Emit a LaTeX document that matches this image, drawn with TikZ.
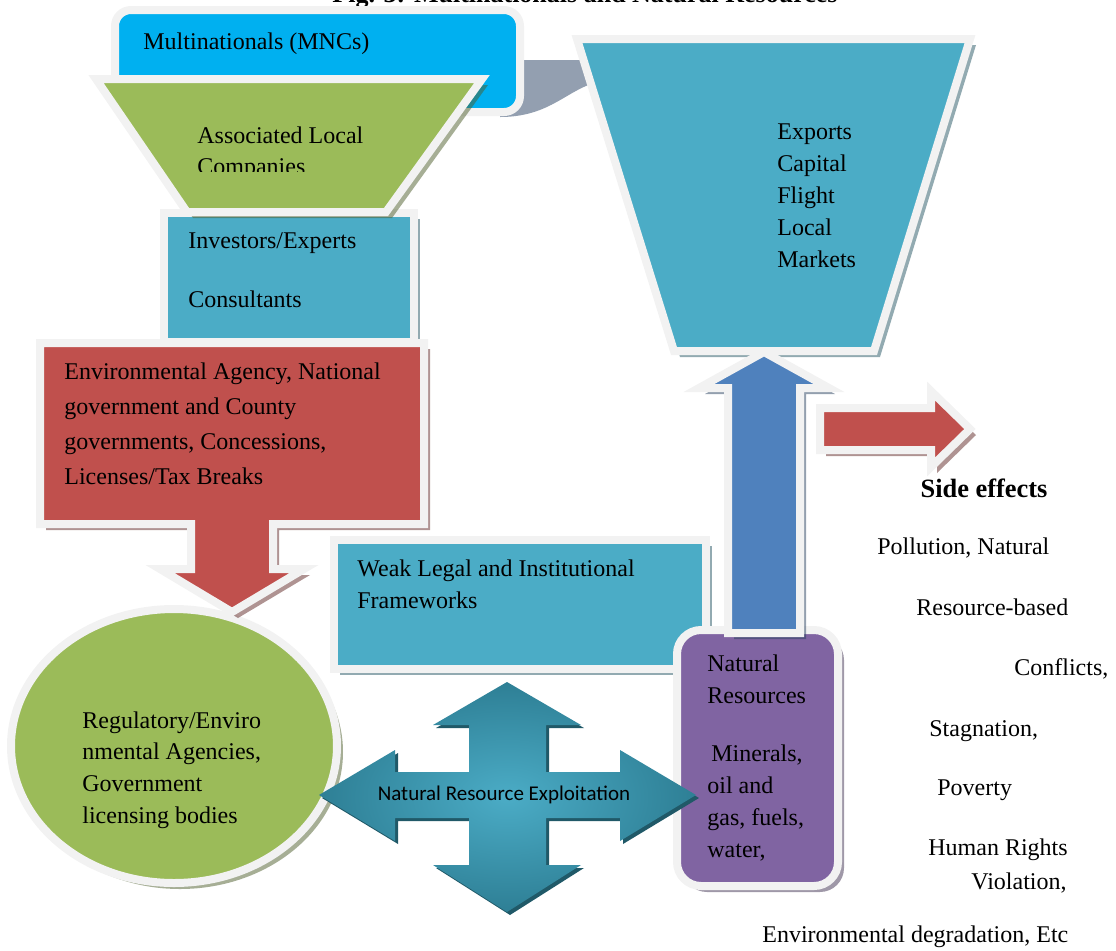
\documentclass[tikz,border=0pt]{standalone}
\usepackage{fontspec}
\setmainfont{Liberation Serif}
\newfontfamily\calibri{Carlito}
\usetikzlibrary{shadows}
\definecolor{mncblue}{HTML}{00B0F0}
\definecolor{leafgreen}{HTML}{9BBB59}
\definecolor{aqua}{HTML}{4BACC6}
\definecolor{brick}{HTML}{C0504D}
\definecolor{nrpurple}{HTML}{8064A2}
\definecolor{steel}{HTML}{4F81BD}
\definecolor{deepteal}{HTML}{2E7F95}
\definecolor{rimgray}{HTML}{F2F2F2}
\definecolor{bandgray}{HTML}{939FB0}

\begin{document}
\begin{tikzpicture}[x=0.5pt,y=-0.5pt,
  rimmed/.style={draw=rimgray,line width=4pt,line join=miter},
  shad/.style={drop shadow={shadow xshift=3pt,shadow yshift=-3pt,fill=#1!50!black,opacity=.5}},
  txt/.style={anchor=west,inner sep=0pt,align=left,font=\fontsize{12}{#1}\selectfont},
  txt/.default=16]
  \useasboundingbox (0,0) rectangle (1116,950);
  \clip (0,0) rectangle (1116,950);
  \node[anchor=base,font=\bfseries\fontsize{13}{15}\selectfont] (title) at (585,2) {Fig. 3: Multinationals and Natural Resources};
  % top row
  \fill[bandgray] (505,60) -- (586,60) -- (594,83) .. controls (565,92) and (548,117) .. (500,117) -- cycle;
  \draw[rimmed,fill=mncblue,rounded corners=8pt] (115,10) rectangle (520,112);
  \draw[rimmed,fill=aqua,shad=aqua] (164,213) rectangle (414,342);
  \draw[rimmed,fill=leafgreen,shad=leafgreen] (96,79) -- (482,79) -- (386,212) -- (187,212) -- cycle;
  \draw[rimmed,fill=aqua,shad=aqua] (577,39) -- (970,39) -- (874,351) -- (674,351) -- cycle;
  % left column
  \draw[rimmed,fill=leafgreen,shad=leafgreen] (174,746) ellipse [x radius=163,y radius=137];
  \draw[rimmed,fill=brick,shad=brick] (40,343) -- (424,343) -- (424,524) -- (273,524) -- (273,569) -- (304,569)
    -- (232,612) -- (160,569) -- (191,569) -- (191,524) -- (40,524) -- cycle;
  \draw[rimmed,fill=aqua,shad=aqua] (334,540) rectangle (706,669);
  % right column
  \draw[rimmed,fill=nrpurple,shad=nrpurple,rounded corners=12pt] (677,630) rectangle (838,886);
  \draw[rimmed,fill=brick,shad=brick] (820,408) -- (931,408) -- (931,391) -- (970,429) -- (931,467) -- (931,450) -- (820,450) -- cycle;
  \draw[rimmed,fill=steel,shad=steel] (728,633) -- (728,388) -- (699,388) -- (764,352) -- (829,388) -- (800,388) -- (800,633) -- cycle;
  % four way arrow
  \shade[inner color=aqua,outer color=deepteal,drop shadow={shadow xshift=1.5pt,shadow yshift=-1.5pt,fill=deepteal!70!black,opacity=1}]
    (507,682) -- (581,725) -- (546,725) -- (546,772) -- (620,772) -- (620,750) -- (696,795) -- (620,841) -- (620,818)
    -- (546,818) -- (546,865) -- (581,865) -- (507,912) -- (433,865) -- (469,865) -- (469,818) -- (395,818) -- (395,841)
    -- (319,795) -- (395,750) -- (395,772) -- (469,772) -- (469,725) -- (433,725) -- cycle;
  % texts
  \node[txt] (mnc) at (143,44) {Multinationals (MNCs)};
  \begin{scope}
    \clip (150,100) rectangle (420,171);
    \node[txt=15.5] (alc) at (197,153.5) {Associated Local\\Companies};
  \end{scope}
  \node[txt=14.75] (inv) at (188,270) {Investors/Experts\\[14.75pt]Consultants};
  \node[txt] (exp) at (777,196) {Exports\\Capital\\Flight\\Local\\Markets};
  \node[txt=17.5] (env) at (64,424) {Environmental Agency, National\\government and County\\governments, Concessions,\\Licenses/Tax Breaks};
  \node[txt] (weak) at (357,584) {Weak Legal and Institutional\\Frameworks};
  \node[txt=15.8] (reg) at (82,770) {Regulatory/Enviro\\nmental Agencies,\\Government\\licensing bodies};
  \node[txt] (nr) at (707,758) {Natural\\Resources\\[13pt]\hspace{2pt}Minerals,\\oil and\\gas, fuels,\\water,};
  \node[inner sep=0pt,font=\calibri\fontsize{10.5}{12}\selectfont] (nre) at (504,795) {Natural Resource Exploitation};
  \node[inner sep=0pt,font=\bfseries\fontsize{13.2}{15}\selectfont] (side) at (984,488) {Side effects};
  \foreach \x/\y/\t [count=\i] in {877/548/{Pollution, Natural},916/607/Resource-based,1014/669/{Conflicts,},
      929/731/{Stagnation,},937/790/Poverty,928/850/Human Rights,971/883/{Violation,},762/937/{Environmental degradation, Etc}}
    \node[txt] (se\i) at (\x,\y) {\t};
\end{tikzpicture}
\end{document}
